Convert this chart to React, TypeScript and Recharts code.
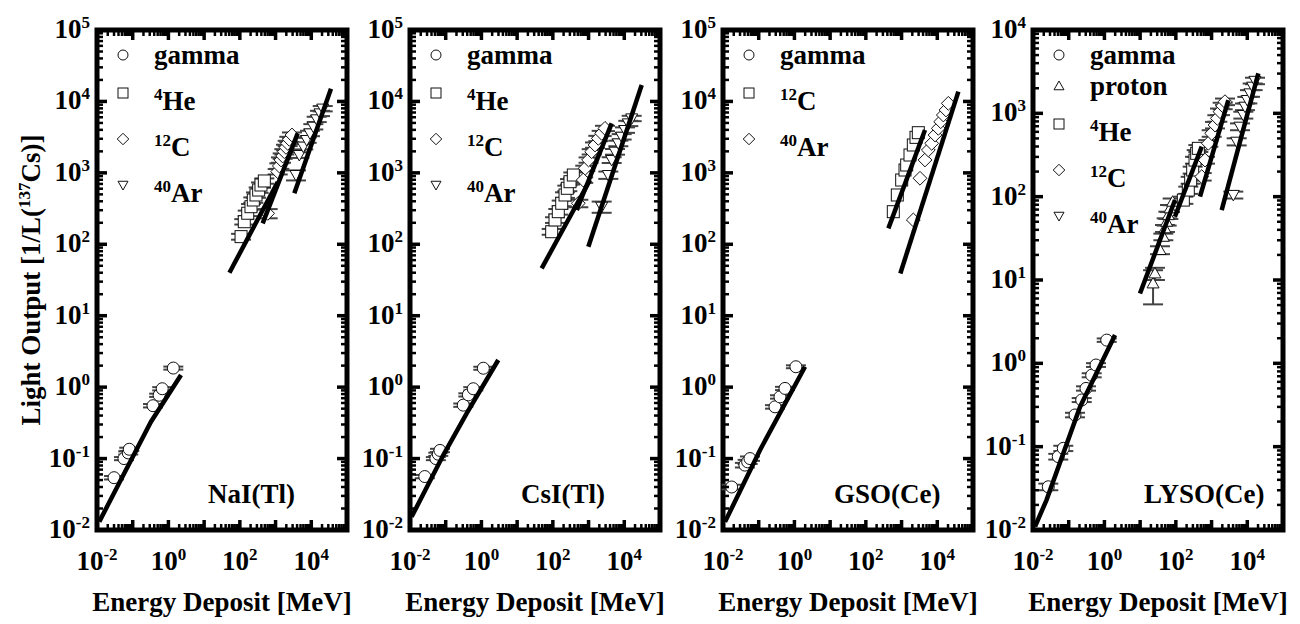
import React from 'react';
import { ComposedChart, Scatter, XAxis, YAxis, ErrorBar, ReferenceArea, Legend } from 'recharts';

const FONT = "'Liberation Serif', 'Times New Roman', Times, serif";

// axis ticks
const X_DECADES = [0.01, 0.1, 1, 10, 100, 1000, 10000, 100000];
const X_LABELED = [0.01, 1, 100, 10000];
const Y_DECADES_5 = [0.01, 0.1, 1, 10, 100, 1000, 10000, 100000];
const Y_DECADES_4 = [0.01, 0.1, 1, 10, 100, 1000, 10000];
const MINOR_STEPS = [2, 3, 4, 5, 6, 7, 8, 9];

// ---- NaI(Tl)
const NAI_GAMMA_E = [0.030, 0.057, 0.075, 0.080, 0.37, 0.55, 0.67, 1.37];
const NAI_GAMMA_L = [0.054, 0.10, 0.12, 0.135, 0.55, 0.77, 0.95, 1.85];
const NAI_GAMMA_ERR = [0.003, 0.005, 0.006, 0.007, 0.03, 0.04, 0.05, 0.09];
const NAI_GAMMA_FIT_E = [0.0116, 0.058, 0.325, 2.25];
const NAI_GAMMA_FIT_L = [0.0131, 0.0622, 0.328, 1.48];
const NAI_HE_E = [108, 133, 166, 205, 238, 283, 336, 390, 484];
const NAI_HE_L = [128, 207, 272, 336, 417, 490, 575, 676, 770];
const NAI_HE_ERR = [12, 18, 24, 30, 36, 42, 50, 58, 66];
const NAI_HE_FIT_E = [51, 1150];
const NAI_HE_FIT_L = [40, 745];
const NAI_C_E = [601, 1146, 1274, 1420, 1580, 1758, 1959, 2181, 2427, 2884];
const NAI_C_L = [271, 1040, 1248, 1515, 1722, 1977, 2275, 2589, 2946, 3388];
const NAI_C_ERR = [40, 90, 110, 130, 150, 170, 200, 220, 250, 290];
const NAI_C_FIT_E = [435, 4160];
const NAI_C_FIT_L = [196, 3573];
const NAI_AR_E = [3733, 4620, 5980, 7430, 9200, 11400, 14170, 17540, 20900];
const NAI_AR_L = [933, 1778, 2330, 2884, 3573, 4430, 5620, 6810, 7940];
const NAI_AR_ERR = [150, 160, 200, 250, 310, 380, 480, 580, 680];
const NAI_AR_FIT_E = [3350, 35600];
const NAI_AR_FIT_L = [518, 15100];

// ---- CsI(Tl)
const CSI_GAMMA_E = [0.026, 0.053, 0.062, 0.069, 0.31, 0.43, 0.59, 1.13];
const CSI_GAMMA_L = [0.056, 0.10, 0.115, 0.13, 0.56, 0.78, 0.95, 1.84];
const CSI_GAMMA_ERR = [0.003, 0.005, 0.006, 0.007, 0.03, 0.04, 0.05, 0.09];
const CSI_GAMMA_FIT_E = [0.0111, 0.0857, 0.386, 2.96];
const CSI_GAMMA_FIT_L = [0.0153, 0.112, 0.43, 2.4];
const CSI_HE_E = [92.7, 115, 142, 177, 219, 254, 302, 374];
const CSI_HE_L = [150, 219, 286, 375, 490, 608, 752, 933];
const CSI_HE_ERR = [14, 20, 26, 34, 44, 54, 66, 80];
const CSI_HE_FIT_E = [48.6, 1100];
const CSI_HE_FIT_L = [46, 794];
const CSI_C_E = [516, 708, 807, 1000, 1222, 1515, 1876, 2326, 2884];
const CSI_C_L = [375, 794, 1160, 1515, 1977, 2455, 3040, 3573, 4200];
const CSI_C_ERR = [45, 70, 100, 130, 170, 210, 260, 300, 360];
const CSI_C_FIT_E = [464, 4436];
const CSI_C_FIT_L = [302, 4932];
const CSI_AR_E = [2326, 3573, 4436, 5500, 6810, 8450, 10470, 12970, 16100];
const CSI_AR_L = [336, 933, 1515, 1977, 2589, 3206, 3981, 4932, 5790];
const CSI_AR_ERR = [60, 110, 140, 180, 230, 280, 350, 420, 500];
const CSI_AR_FIT_E = [985, 30700];
const CSI_AR_FIT_L = [92.5, 17000];

// ---- GSO(Ce)
const GSO_GAMMA_E = [0.0175, 0.041, 0.049, 0.057, 0.286, 0.394, 0.544, 1.1];
const GSO_GAMMA_L = [0.040, 0.081, 0.09, 0.10, 0.53, 0.73, 0.96, 1.93];
const GSO_GAMMA_ERR = [0.003, 0.006, 0.006, 0.007, 0.03, 0.04, 0.05, 0.09];
const GSO_GAMMA_FIT_E = [0.0114, 0.109, 1.98];
const GSO_GAMMA_FIT_L = [0.013, 0.132, 1.93];
const GSO_C_E = [587, 760, 1007, 1248, 1390, 1722, 2133, 2535, 2944];
const GSO_C_L = [286, 490, 794, 1096, 1288, 1778, 2455, 3140, 3650];
const GSO_C_FIT_E = [427, 4530];
const GSO_C_FIT_L = [167, 3981];
const GSO_AR_E = [2133, 3281, 4530, 5610, 6966, 8630, 10690, 12470, 14760, 17540, 20370];
const GSO_AR_L = [219, 840, 1515, 2089, 2589, 3388, 4200, 5200, 6457, 7586, 9400];
const GSO_AR_FIT_E = [923, 38900];
const GSO_AR_FIT_L = [39, 13700];

// ---- LYSO(Ce)
const LYSO_GAMMA_E = [0.0268, 0.051, 0.0705, 0.15, 0.231, 0.305, 0.44, 0.58, 1.16];
const LYSO_GAMMA_L = [0.033, 0.076, 0.0955, 0.24, 0.363, 0.50, 0.72, 0.955, 1.9];
const LYSO_GAMMA_ERR = [0.003, 0.006, 0.007, 0.015, 0.02, 0.03, 0.04, 0.05, 0.09];
const LYSO_GAMMA_FIT_E = [0.0114, 0.024, 0.207, 1.98];
const LYSO_GAMMA_FIT_L = [0.011, 0.023, 0.30, 2.19];
const LYSO_P_E = [23, 26, 36, 44.6, 49.6, 55.3, 61.7, 68.6, 81.4];
const LYSO_P_L = [9.1, 12, 22.9, 33, 41.7, 50, 60, 72.4, 87];
const LYSO_P_ERR = [4, 2, 2.5, 3, 4, 5, 6, 7, 8];
const LYSO_P_FIT_E = [9.9, 94.6];
const LYSO_P_FIT_L = [6.9, 91];
const LYSO_HE_E = [162, 223, 260, 296, 344, 383, 426];
const LYSO_HE_L = [91, 120, 158, 209, 275, 331, 380];
const LYSO_HE_ERR = [9, 12, 15, 20, 26, 31, 36];
const LYSO_HE_FIT_E = [94, 530];
const LYSO_HE_FIT_L = [57.5, 398];
const LYSO_C_E = [530, 655, 811, 1007, 1248, 1450, 1722, 2046, 2377];
const LYSO_C_L = [174, 275, 437, 575, 724, 871, 1047, 1230, 1380];
const LYSO_C_ERR = [18, 26, 40, 52, 65, 78, 95, 110, 125];
const LYSO_C_FIT_E = [474, 2944];
const LYSO_C_FIT_L = [100, 1445];
const LYSO_AR_E = [4064, 5047, 6250, 7745, 8630, 10020, 11900, 14130, 16440];
const LYSO_AR_L = [105, 457, 692, 955, 1202, 1445, 1738, 2089, 2455];
const LYSO_AR_ERR = [10, 45, 65, 90, 110, 130, 160, 190, 220];
const LYSO_AR_FIT_E = [1919, 20370];
const LYSO_AR_FIT_L = [69, 3020];

const pts = (xs: number[], ys: number[], es?: number[]) =>
  xs.map((x, i) => ({ x, y: ys[i], ey: es ? es[i] : 0 }));

const withMinors = (decades: number[]) => {
  const out: number[] = [];
  decades.forEach((d, i) => {
    out.push(d);
    if (i < decades.length - 1) MINOR_STEPS.forEach((m) => out.push(d * m));
  });
  return out;
};

const PLOT_W = 250;
const PLOT_H = 500;
const LEFT_SPACE = 97; // margin + y axis width
const CHART_W = LEFT_SPACE + PLOT_W + 6;

const PANELS = [
  {
    crystal: 'NaI(Tl)', left: 97, yMax: 1e5, yDecades: Y_DECADES_5,
    series: [
      { name: 'gamma', sup: '', label: 'gamma', marker: 'circle', data: pts(NAI_GAMMA_E, NAI_GAMMA_L, NAI_GAMMA_ERR), fit: pts(NAI_GAMMA_FIT_E, NAI_GAMMA_FIT_L), err: true },
      { name: 'He', sup: '4', label: 'He', marker: 'square', data: pts(NAI_HE_E, NAI_HE_L, NAI_HE_ERR), fit: pts(NAI_HE_FIT_E, NAI_HE_FIT_L), err: true },
      { name: 'C', sup: '12', label: 'C', marker: 'diamond', data: pts(NAI_C_E, NAI_C_L, NAI_C_ERR), fit: pts(NAI_C_FIT_E, NAI_C_FIT_L), err: true },
      { name: 'Ar', sup: '40', label: 'Ar', marker: 'down', data: pts(NAI_AR_E, NAI_AR_L, NAI_AR_ERR), fit: pts(NAI_AR_FIT_E, NAI_AR_FIT_L), err: true },
    ],
  },
  {
    crystal: 'CsI(Tl)', left: 410, yMax: 1e5, yDecades: Y_DECADES_5,
    series: [
      { name: 'gamma', sup: '', label: 'gamma', marker: 'circle', data: pts(CSI_GAMMA_E, CSI_GAMMA_L, CSI_GAMMA_ERR), fit: pts(CSI_GAMMA_FIT_E, CSI_GAMMA_FIT_L), err: true },
      { name: 'He', sup: '4', label: 'He', marker: 'square', data: pts(CSI_HE_E, CSI_HE_L, CSI_HE_ERR), fit: pts(CSI_HE_FIT_E, CSI_HE_FIT_L), err: true },
      { name: 'C', sup: '12', label: 'C', marker: 'diamond', data: pts(CSI_C_E, CSI_C_L, CSI_C_ERR), fit: pts(CSI_C_FIT_E, CSI_C_FIT_L), err: true },
      { name: 'Ar', sup: '40', label: 'Ar', marker: 'down', data: pts(CSI_AR_E, CSI_AR_L, CSI_AR_ERR), fit: pts(CSI_AR_FIT_E, CSI_AR_FIT_L), err: true },
    ],
  },
  {
    crystal: 'GSO(Ce)', left: 723, yMax: 1e5, yDecades: Y_DECADES_5,
    series: [
      { name: 'gamma', sup: '', label: 'gamma', marker: 'circle', data: pts(GSO_GAMMA_E, GSO_GAMMA_L, GSO_GAMMA_ERR), fit: pts(GSO_GAMMA_FIT_E, GSO_GAMMA_FIT_L), err: true },
      { name: 'C', sup: '12', label: 'C', marker: 'square', data: pts(GSO_C_E, GSO_C_L), fit: pts(GSO_C_FIT_E, GSO_C_FIT_L), err: false },
      { name: 'Ar', sup: '40', label: 'Ar', marker: 'diamond', data: pts(GSO_AR_E, GSO_AR_L), fit: pts(GSO_AR_FIT_E, GSO_AR_FIT_L), err: false },
    ],
  },
  {
    crystal: 'LYSO(Ce)', left: 1033, yMax: 1e4, yDecades: Y_DECADES_4,
    series: [
      { name: 'gamma', sup: '', label: 'gamma', marker: 'circle', data: pts(LYSO_GAMMA_E, LYSO_GAMMA_L, LYSO_GAMMA_ERR), fit: pts(LYSO_GAMMA_FIT_E, LYSO_GAMMA_FIT_L), err: true },
      { name: 'proton', sup: '', label: 'proton', marker: 'up', data: pts(LYSO_P_E, LYSO_P_L, LYSO_P_ERR), fit: pts(LYSO_P_FIT_E, LYSO_P_FIT_L), err: true },
      { name: 'He', sup: '4', label: 'He', marker: 'square', data: pts(LYSO_HE_E, LYSO_HE_L, LYSO_HE_ERR), fit: pts(LYSO_HE_FIT_E, LYSO_HE_FIT_L), err: true },
      { name: 'C', sup: '12', label: 'C', marker: 'diamond', data: pts(LYSO_C_E, LYSO_C_L, LYSO_C_ERR), fit: pts(LYSO_C_FIT_E, LYSO_C_FIT_L), err: true },
      { name: 'Ar', sup: '40', label: 'Ar', marker: 'down', data: pts(LYSO_AR_E, LYSO_AR_L, LYSO_AR_ERR), fit: pts(LYSO_AR_FIT_E, LYSO_AR_FIT_L), err: true },
    ],
  },
];

const isDecade = (v: number) => Math.abs(Math.log10(v) - Math.round(Math.log10(v))) < 1e-6;
const expOf = (v: number) => Math.round(Math.log10(v));

function Marker({ kind, cx, cy, size }: any) {
  const r = size / 2;
  const common = { fill: '#fff', stroke: '#111', strokeWidth: 1 };
  if (cx == null || cy == null) return <g />;
  switch (kind) {
    case 'square':
      return <rect x={cx - r} y={cy - r} width={size} height={size} {...common} />;
    case 'diamond': {
      const d = r * 1.15;
      return <polygon points={`${cx},${cy - d} ${cx + d},${cy} ${cx},${cy + d} ${cx - d},${cy}`} {...common} />;
    }
    case 'up':
      return <polygon points={`${cx},${cy - r} ${cx + r},${cy + r * 0.75} ${cx - r},${cy + r * 0.75}`} {...common} />;
    case 'down':
      return <polygon points={`${cx},${cy + r} ${cx + r},${cy - r * 0.75} ${cx - r},${cy - r * 0.75}`} {...common} />;
    default:
      return <circle cx={cx} cy={cy} r={r} {...common} />;
  }
}

function PowerLabel({ x, y, exp, anchor }: any) {
  return (
    <text x={x} y={y} textAnchor={anchor} fontFamily={FONT} fontWeight="bold" fontSize={27} fill="#000">
      10<tspan dy={-10} fontSize={17}>{exp}</tspan>
    </text>
  );
}

function XTick(props: any) {
  const { x, y, payload } = props;
  const v = payload.value;
  const major = isDecade(v);
  const len = major ? 10 : 6;
  const sw = major ? 3.5 : 2.5;
  const labeled = X_LABELED.some((t) => Math.abs(Math.log10(t) - Math.log10(v)) < 1e-6);
  return (
    <g>
      <line x1={x} x2={x} y1={y} y2={y - len} stroke="#000" strokeWidth={sw} />
      <line x1={x} x2={x} y1={y - PLOT_H} y2={y - PLOT_H + len} stroke="#000" strokeWidth={sw} />
      {labeled && <PowerLabel x={x} y={y + 40} exp={expOf(v)} anchor="middle" />}
    </g>
  );
}

function YTick(props: any) {
  const { x, y, payload } = props;
  const v = payload.value;
  const major = isDecade(v);
  const len = major ? 10 : 6;
  const sw = major ? 3.5 : 2.5;
  return (
    <g>
      <line x1={x} x2={x + len} y1={y} y2={y} stroke="#000" strokeWidth={sw} />
      <line x1={x + PLOT_W} x2={x + PLOT_W - len} y1={y} y2={y} stroke="#000" strokeWidth={sw} />
      {major && <PowerLabel x={x - 7} y={y + 8} exp={expOf(v)} anchor="end" />}
    </g>
  );
}

function LegendBox({ items }: any) {
  let base = 34;
  const rows = items.map((it: any, i: number) => {
    if (i > 0) base += it.sup ? 46 : 31;
    return { ...it, base };
  });
  return (
    <svg width={220} height={260} style={{ display: 'block', overflow: 'visible' }}>
      {rows.map((r: any) => (
        <g key={r.name}>
          <Marker kind={r.marker} cx={26} cy={r.base - (r.sup ? 17 : 9)} size={10} />
          <text x={57} y={r.base} fontFamily={FONT} fontWeight="bold" fontSize={27} fill="#000">
            {r.sup ? <tspan fontSize={17} dy={-10}>{r.sup}</tspan> : null}
            <tspan dy={r.sup ? 10 : 0}>{r.label}</tspan>
          </text>
        </g>
      ))}
    </svg>
  );
}

function Panel({ spec, showYTitle }: any) {
  const xTicks = withMinors(X_DECADES);
  const yTicks = withMinors(spec.yDecades);
  return (
    <div style={{ position: 'absolute', left: spec.left - LEFT_SPACE, top: 0 }}>
      <ComposedChart width={CHART_W} height={624} margin={{ top: 30, right: 6, bottom: 64, left: 37 }}>
        <XAxis
          type="number" dataKey="x" scale="log" domain={[0.01, 100000]} allowDataOverflow
          ticks={xTicks} interval={0} tickSize={0} tickMargin={0} axisLine={false} tickLine={false} height={30}
          tick={(p: any) => <XTick {...p} />}
          label={(p: any) => {
            const vb = p.viewBox;
            return (
              <text x={vb.x + vb.width / 2} y={vb.y + 81} textAnchor="middle" fontFamily={FONT} fontWeight="bold" fontSize={27} fill="#000">
                Energy Deposit [MeV]
              </text>
            );
          }}
        />
        <YAxis
          type="number" dataKey="y" scale="log" domain={[0.01, spec.yMax]} allowDataOverflow
          ticks={yTicks} interval={0} tickSize={0} tickMargin={0} axisLine={false} tickLine={false} width={60}
          tick={(p: any) => <YTick {...p} />}
          label={showYTitle ? (p: any) => {
            const vb = p.viewBox;
            const cx = vb.x + 3;
            const cy = vb.y + vb.height / 2;
            return (
              <text x={cx} y={cy} transform={`rotate(-90 ${cx} ${cy})`} textAnchor="middle" fontFamily={FONT} fontWeight="bold" fontSize={27} fill="#000">
                Light Output [1/L(<tspan fontSize={17} dy={-10}>137</tspan><tspan dy={10}>Cs)]</tspan>
              </text>
            );
          } : undefined}
        />
        <ReferenceArea
          x1={0.01} x2={100000} y1={0.01} y2={spec.yMax} ifOverflow="visible"
          fill="none" fillOpacity={0} stroke="#000" strokeWidth={5}
          label={(p: any) => {
            const vb = p.viewBox;
            return (
              <text x={vb.x + 111} y={vb.y + vb.height - 27} fontFamily={FONT} fontWeight="bold" fontSize={27} fill="#000">
                {spec.crystal}
              </text>
            );
          }}
        />
        {spec.series.map((s: any) => (
          <Scatter
            key={s.name} name={s.name} data={s.data} fill="#fff" isAnimationActive={false}
            shape={(p: any) => <Marker kind={s.marker} cx={p.cx} cy={p.cy} size={12} />}
          >
            {s.err && <ErrorBar dataKey="ey" direction="y" width={10} stroke="#444" strokeWidth={2} isAnimationActive={false} />}
          </Scatter>
        ))}
        {spec.series.map((s: any) => (
          <Scatter
            key={s.name + '-fit'} name={s.name + ' fit'} data={s.fit} fill="#000" legendType="none"
            isAnimationActive={false} line={{ stroke: '#000', strokeWidth: 4.5 }} lineType="joint"
            shape={() => <g />}
          />
        ))}
        <Legend
          layout="vertical" align="center" verticalAlign="middle"
          wrapperStyle={{ left: LEFT_SPACE, top: 30, width: 220, height: 260, margin: 0, padding: 0 }}
          content={() => <LegendBox items={spec.series} />}
        />
      </ComposedChart>
    </div>
  );
}

export default function App() {
  return (
    <div style={{ position: 'absolute', left: 0, top: 0, width: 1300, height: 624, background: '#fff', overflow: 'hidden' }}>
      {PANELS.map((p, i) => (
        <Panel key={p.crystal} spec={p} showYTitle={i === 0} />
      ))}
    </div>
  );
}
